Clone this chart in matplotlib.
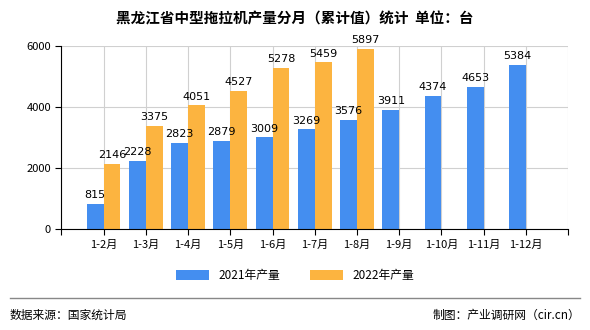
import matplotlib
matplotlib.use("Agg")
import matplotlib.pyplot as plt
import numpy as np

plt.rcParams['font.family'] = ['Noto Sans CJK SC', 'DejaVu Sans']

months = ["1-2月", "1-3月", "1-4月", "1-5月", "1-6月", "1-7月", "1-8月",
          "1-9月", "1-10月", "1-11月", "1-12月"]
y2021 = [815, 2228, 2823, 2879, 3009, 3269, 3576, 3911, 4374, 4653, 5384]
y2022 = [2146, 3375, 4051, 4527, 5278, 5459, 5897]

blue = "#448ef0"
orange = "#fcb440"

fig = plt.figure(figsize=(5.9, 3.3), dpi=100)
ax = fig.add_axes([0.104, 0.306, 0.859, 0.555])

x = np.arange(1, len(months) + 1)
w = 0.4
ax.bar(x - w / 2, y2021, width=w, color=blue, label="2021年产量", zorder=2)
x2 = x[:len(y2022)]
ax.bar(x2 + w / 2, y2022, width=w, color=orange, label="2022年产量", zorder=2)

for xi, v in zip(x, y2021):
    ax.text(xi - w / 2, v + 120, str(v), ha="center", va="bottom", fontsize=8,
            family="DejaVu Sans", zorder=3)
for xi, v in zip(x2, y2022):
    ax.text(xi + w / 2, v + 120, str(v), ha="center", va="bottom", fontsize=8,
            family="DejaVu Sans", zorder=3)

ax.set_xlim(0, 12)
ax.set_ylim(0, 6000)
ax.set_yticks([0, 2000, 4000, 6000])
ax.set_xticks(np.arange(0, 13))
ax.set_xticklabels([""] + months + [""], fontsize=8)
ax.tick_params(axis="y", labelsize=8, length=4, direction="out")
ax.tick_params(axis="x", length=4, direction="out")
ax.grid(True, color="#d0d0d0", linewidth=0.8, zorder=0)
ax.set_axisbelow(True)
for s in ["top", "right"]:
    ax.spines[s].set_visible(False)
ax.spines["left"].set_color("black")
ax.spines["bottom"].set_color("black")

fig.text(0.5, 0.945, "黑龙江省中型拖拉机产量分月（累计值）统计  单位：台",
         ha="center", va="center", fontsize=10.5, fontweight="bold")

fig.legend(loc="center", bbox_to_anchor=(0.5, 0.165), ncol=2, frameon=False,
           fontsize=8.5, handlelength=2.8, handleheight=0.9, columnspacing=2.5)

fig.add_artist(plt.Line2D([0.017, 0.983], [0.097, 0.097], color="#888888",
                          linewidth=1, transform=fig.transFigure))
fig.text(0.017, 0.045, "数据来源：国家统计局", ha="left", va="center", fontsize=8.5)
fig.text(0.983, 0.045, "制图：产业调研网（cir.cn）", ha="right", va="center", fontsize=8.5)

fig.savefig("out.png", dpi=100)
